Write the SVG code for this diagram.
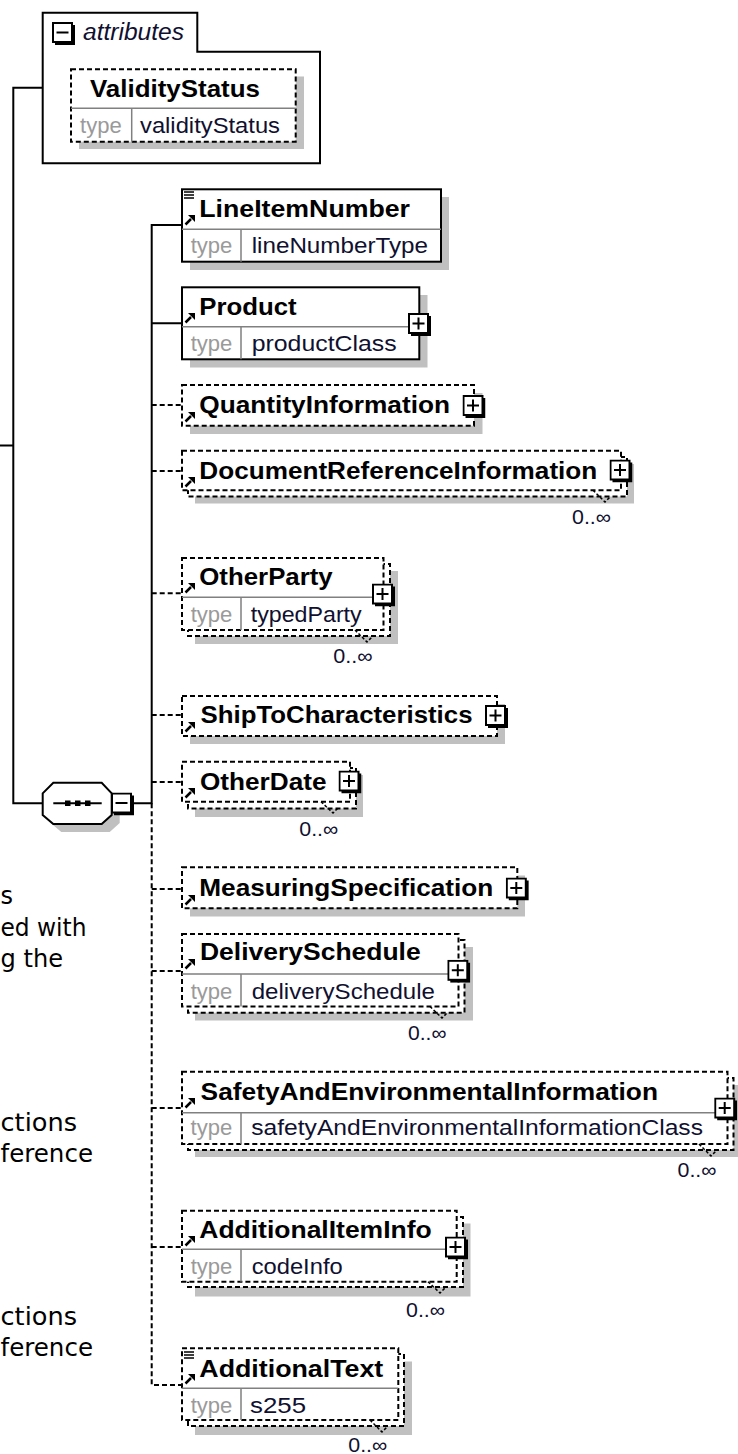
<svg xmlns="http://www.w3.org/2000/svg" width="738" height="1454" viewBox="0 0 738 1454">
<style>
.bg{fill:#fff}
.box{fill:#fff;stroke:#000;stroke-width:2}
.dbox{fill:#fff;stroke:#000;stroke-width:2;stroke-dasharray:5 3}
.sh{fill:#c0c0c0}
.dv{stroke:#808080;stroke-width:1.5;fill:none}
.nm{font-family:"Liberation Sans",Arial,sans-serif;font-weight:bold;font-size:24px;fill:#000}
.tl{font-family:"Liberation Sans",Arial,sans-serif;font-size:22px;fill:#9a9a9a}
.tv{font-family:"Liberation Sans",Arial,sans-serif;font-size:22px;fill:#101030}
.oc{font-family:"Liberation Sans",Arial,sans-serif;font-size:20px;fill:#101030}
.at{font-family:"Liberation Sans",Arial,sans-serif;font-style:italic;font-size:23px;fill:#101030}
.doc{font-family:"DejaVu Sans",Verdana,sans-serif;font-size:24px;fill:#000}
.cn{stroke:#000;stroke-width:2;fill:none}
.dcn{stroke:#000;stroke-width:2;fill:none;stroke-dasharray:5 3}
.nt{stroke:#000;stroke-width:1.5;fill:none;stroke-dasharray:3 2}
</style>
<defs>
<symbol id="plus" viewBox="0 0 23 23" width="23" height="23">
<rect x="1" y="1" width="19" height="19" fill="#fff" stroke="#000" stroke-width="2"/>
<path d="M21.5 3V21.5H3" fill="none" stroke="#000" stroke-width="3"/>
<path d="M4.5 10.5H16.5M10.5 4.5V16.5" stroke="#000" stroke-width="2"/>
</symbol>
<symbol id="minus" viewBox="0 0 23 23" width="23" height="23">
<rect x="1" y="1" width="19" height="19" fill="#fff" stroke="#000" stroke-width="2"/>
<path d="M21.5 3V21.5H3" fill="none" stroke="#000" stroke-width="3"/>
<path d="M4.5 10.5H16.5" stroke="#000" stroke-width="2"/>
</symbol>
<symbol id="ref" viewBox="0 0 12 12" width="12" height="12">
<path d="M1.5 10.5L7 5" stroke="#000" stroke-width="2.5"/>
<path d="M4 1H11V8Z" fill="#000"/>
</symbol>
<symbol id="lines" viewBox="0 0 12 8" width="12" height="8">
<path d="M0 1H10M0 4H10M0 7H10" stroke="#000" stroke-width="1.3"/>
</symbol>
</defs>
<rect class="bg" x="0" y="0" width="738" height="1454"/>

<g id="document-text">
<text class="doc" x="0.5" y="904" textLength="12.5" lengthAdjust="spacingAndGlyphs">s</text>
<text class="doc" x="0.5" y="936" textLength="86" lengthAdjust="spacingAndGlyphs">ed with</text>
<text class="doc" x="0.5" y="967" textLength="62.5" lengthAdjust="spacingAndGlyphs">g the</text>
<text class="doc" x="0.5" y="1131" textLength="76.5" lengthAdjust="spacingAndGlyphs">ctions</text>
<text class="doc" x="0.5" y="1162" textLength="92.5" lengthAdjust="spacingAndGlyphs">ference</text>
<text class="doc" x="0.5" y="1325" textLength="76.5" lengthAdjust="spacingAndGlyphs">ctions</text>
<text class="doc" x="0.5" y="1356" textLength="92.5" lengthAdjust="spacingAndGlyphs">ference</text>
</g>

<g id="connectors">
<path class="cn" d="M0 445.5H13.3M43 87.7H13.3V803.3H43"/>
<path class="cn" d="M133 803.3H151.7V225H182M151.7 323.3H182"/>
<path class="dcn" d="M151.7 803.3V1385H182"/>
<path class="dcn" d="M151.7 405H182M151.7 471H182M151.7 593.3H182M151.7 715H182M151.7 782H182M151.7 889H182M151.7 971H182M151.7 1108H182M151.7 1247H182"/>
</g>

<g id="attributes">
<path d="M42.7 163.3V12.7H197.3V51.7H320V163.3Z" fill="#fff" stroke="#000" stroke-width="2"/>
<use href="#minus" x="52" y="22"/>
<text class="at" x="83" y="40" textLength="101" lengthAdjust="spacingAndGlyphs">attributes</text>
<g id="ValidityStatus">
<rect class="sh" x="79" y="76.5" width="225" height="72.5"/>
<rect class="dbox" x="71" y="69.3" width="224.7" height="72.4"/>
<path class="dv" d="M71 108.3H295.7M131.7 108.3V141.7"/>
<text class="nm" x="90" y="97" textLength="170" lengthAdjust="spacingAndGlyphs">ValidityStatus</text>
<text class="tl" x="80" y="133" textLength="41.7" lengthAdjust="spacingAndGlyphs">type</text>
<text class="tv" x="140" y="133" textLength="140" lengthAdjust="spacingAndGlyphs">validityStatus</text>
</g>
</g>

<g id="sequence">
<path class="sh" d="M61.3 790.7H109.7L119.7 801.3V823L109.7 832H61.3L50.7 823V801.3Z"/>
<path d="M53.3 782.7H101.7L111.7 793.3V815L101.7 824H53.3L42.7 815V793.3Z" fill="#fff" stroke="#000" stroke-width="2"/>
<path d="M53.3 803.3H101.7" stroke="#000" stroke-width="2"/>
<rect x="65" y="800.5" width="5.5" height="5.5" fill="#000"/>
<rect x="75" y="800.5" width="5.5" height="5.5" fill="#000"/>
<rect x="85" y="800.5" width="5.5" height="5.5" fill="#000"/>
<use href="#minus" x="111" y="792.5"/>
</g>

<g id="LineItemNumber">
<rect class="sh" x="190" y="197" width="259" height="73"/>
<rect class="box" x="182" y="189.3" width="259" height="72.4"/>
<path class="dv" d="M182 229.3H441M241 229.3V261.7"/>
<use href="#lines" x="184" y="191"/>
<use href="#ref" x="184" y="214"/>
<text class="nm" x="199.3" y="217.3" textLength="210.7" lengthAdjust="spacingAndGlyphs">LineItemNumber</text>
<text class="tl" x="190.7" y="253" textLength="41.7" lengthAdjust="spacingAndGlyphs">type</text>
<text class="tv" x="251.7" y="253" textLength="176.3" lengthAdjust="spacingAndGlyphs">lineNumberType</text>
</g>

<g id="Product">
<rect class="sh" x="190" y="295" width="237.5" height="72.5"/>
<rect class="box" x="182" y="287.3" width="237.3" height="72"/>
<path class="dv" d="M182 326.7H419.3M241 326.7V359.3"/>
<use href="#ref" x="184" y="312"/>
<text class="nm" x="199.3" y="315" textLength="97.4" lengthAdjust="spacingAndGlyphs">Product</text>
<text class="tl" x="190.7" y="351" textLength="41.7" lengthAdjust="spacingAndGlyphs">type</text>
<text class="tv" x="251.7" y="351" textLength="145" lengthAdjust="spacingAndGlyphs">productClass</text>
<use href="#plus" x="408" y="313"/>
</g>

<g id="QuantityInformation">
<rect class="sh" x="190" y="393" width="292.5" height="41"/>
<rect class="dbox" x="182" y="385" width="292" height="40.7"/>
<use href="#ref" x="184" y="411"/>
<text class="nm" x="199.3" y="413.3" textLength="250.7" lengthAdjust="spacingAndGlyphs">QuantityInformation</text>
<use href="#plus" x="462.5" y="395"/>
</g>

<g id="DocumentReferenceInformation">
<rect class="sh" x="195" y="464" width="439" height="39.5"/>
<rect class="dbox" x="188" y="457" width="439" height="39.5"/>
<rect class="dbox" x="182" y="450.7" width="439" height="39.5"/>
<use href="#ref" x="184" y="476"/>
<text class="nm" x="199.3" y="479" textLength="398" lengthAdjust="spacingAndGlyphs">DocumentReferenceInformation</text>
<use href="#plus" x="609.5" y="459.5"/>
<path class="nt" d="M593 490.2L605 502L610 497"/>
<text class="oc" x="572" y="524" textLength="39" lengthAdjust="spacingAndGlyphs">0..∞</text>
</g>

<g id="OtherParty">
<rect class="sh" x="195" y="571" width="203" height="73"/>
<rect class="dbox" x="188" y="564" width="202" height="72"/>
<rect class="dbox" x="182" y="558" width="201.5" height="72"/>
<path class="dv" d="M182 597.3H383.5M241 597.3V630"/>
<use href="#ref" x="184" y="582"/>
<text class="nm" x="199.3" y="585" textLength="133.4" lengthAdjust="spacingAndGlyphs">OtherParty</text>
<text class="tl" x="190.7" y="621.5" textLength="41.7" lengthAdjust="spacingAndGlyphs">type</text>
<text class="tv" x="250.7" y="621.5" textLength="111" lengthAdjust="spacingAndGlyphs">typedParty</text>
<use href="#plus" x="372" y="583.5"/>
<path class="nt" d="M355 630L367 642L372 637"/>
<text class="oc" x="333.3" y="663.3" textLength="39.4" lengthAdjust="spacingAndGlyphs">0..∞</text>
</g>

<g id="ShipToCharacteristics">
<rect class="sh" x="190" y="704" width="315" height="40"/>
<rect class="dbox" x="182" y="696" width="315" height="40"/>
<use href="#ref" x="184" y="721"/>
<text class="nm" x="200.5" y="723.3" textLength="272" lengthAdjust="spacingAndGlyphs">ShipToCharacteristics</text>
<use href="#plus" x="485" y="705"/>
</g>

<g id="OtherDate">
<rect class="sh" x="195" y="775" width="168" height="42"/>
<rect class="dbox" x="188" y="768" width="168" height="40.5"/>
<rect class="dbox" x="182" y="761.7" width="168" height="40"/>
<use href="#ref" x="184" y="787"/>
<text class="nm" x="200" y="790" textLength="126.5" lengthAdjust="spacingAndGlyphs">OtherDate</text>
<use href="#plus" x="338.5" y="770.5"/>
<path class="nt" d="M321 801.7L333 813L338 808"/>
<text class="oc" x="299.3" y="836" textLength="39" lengthAdjust="spacingAndGlyphs">0..∞</text>
</g>

<g id="MeasuringSpecification">
<rect class="sh" x="190" y="875.5" width="335" height="41"/>
<rect class="dbox" x="182" y="867.3" width="335.3" height="41"/>
<use href="#ref" x="184" y="894"/>
<text class="nm" x="199.3" y="895.5" textLength="294" lengthAdjust="spacingAndGlyphs">MeasuringSpecification</text>
<use href="#plus" x="505.8" y="877.5"/>
</g>

<g id="DeliverySchedule">
<rect class="sh" x="195" y="947" width="278" height="73.5"/>
<rect class="dbox" x="188" y="940" width="276.5" height="72.7"/>
<rect class="dbox" x="182" y="934" width="276.5" height="72.5"/>
<path class="dv" d="M182 974H458.5M241 974V1006.5"/>
<use href="#ref" x="184" y="958"/>
<text class="nm" x="200" y="960" textLength="220.7" lengthAdjust="spacingAndGlyphs">DeliverySchedule</text>
<text class="tl" x="190.7" y="998.5" textLength="41.7" lengthAdjust="spacingAndGlyphs">type</text>
<text class="tv" x="251.7" y="998.5" textLength="183.3" lengthAdjust="spacingAndGlyphs">deliverySchedule</text>
<use href="#plus" x="447.3" y="959.8"/>
<path class="nt" d="M430 1006.5L442 1018L447 1013"/>
<text class="oc" x="408" y="1040" textLength="38.5" lengthAdjust="spacingAndGlyphs">0..∞</text>
</g>

<g id="SafetyAndEnvironmentalInformation">
<rect class="sh" x="195" y="1085" width="545" height="72"/>
<rect class="dbox" x="188" y="1078" width="545.5" height="72"/>
<rect class="dbox" x="182" y="1071.7" width="545.5" height="72.3"/>
<path class="dv" d="M182 1112.7H727.5M241 1112.7V1144"/>
<use href="#ref" x="184" y="1097"/>
<text class="nm" x="200.6" y="1100" textLength="457.4" lengthAdjust="spacingAndGlyphs">SafetyAndEnvironmentalInformation</text>
<text class="tl" x="190.5" y="1135" textLength="41.7" lengthAdjust="spacingAndGlyphs">type</text>
<text class="tv" x="251.2" y="1135" textLength="451.8" lengthAdjust="spacingAndGlyphs">safetyAndEnvironmentalInformationClass</text>
<use href="#plus" x="714.2" y="1097.5"/>
<path class="nt" d="M699 1144L711 1156L716 1151"/>
<text class="oc" x="677.5" y="1177" textLength="39" lengthAdjust="spacingAndGlyphs">0..∞</text>
</g>

<g id="AdditionalItemInfo">
<rect class="sh" x="195" y="1223.5" width="275.5" height="73"/>
<rect class="dbox" x="188" y="1217" width="275" height="70"/>
<rect class="dbox" x="182" y="1210.7" width="274.7" height="71"/>
<path class="dv" d="M182 1249.3H456.7M241 1249.3V1281.7"/>
<use href="#ref" x="184" y="1235"/>
<text class="nm" x="199.3" y="1238.3" textLength="232.4" lengthAdjust="spacingAndGlyphs">AdditionalItemInfo</text>
<text class="tl" x="190.7" y="1274" textLength="41.7" lengthAdjust="spacingAndGlyphs">type</text>
<text class="tv" x="251.7" y="1274" textLength="91" lengthAdjust="spacingAndGlyphs">codeInfo</text>
<use href="#plus" x="445" y="1236.5"/>
<path class="nt" d="M428 1281.7L440 1293L445 1288"/>
<text class="oc" x="406" y="1316.7" textLength="39" lengthAdjust="spacingAndGlyphs">0..∞</text>
</g>

<g id="AdditionalText">
<rect class="sh" x="195" y="1361.5" width="217" height="73.5"/>
<rect class="dbox" x="188" y="1354" width="216" height="72"/>
<rect class="dbox" x="182" y="1348.3" width="216.3" height="71.7"/>
<path class="dv" d="M182 1388.3H398.3M241 1388.3V1420"/>
<use href="#lines" x="184" y="1351"/>
<use href="#ref" x="184" y="1373"/>
<text class="nm" x="199.3" y="1376.7" textLength="184" lengthAdjust="spacingAndGlyphs">AdditionalText</text>
<text class="tl" x="190.7" y="1413.3" textLength="41.7" lengthAdjust="spacingAndGlyphs">type</text>
<text class="tv" x="250" y="1413.3" textLength="56" lengthAdjust="spacingAndGlyphs">s255</text>
<path class="nt" d="M370 1420L382 1432L387 1427"/>
<text class="oc" x="348.3" y="1452" textLength="39" lengthAdjust="spacingAndGlyphs">0..∞</text>
</g>
</svg>
